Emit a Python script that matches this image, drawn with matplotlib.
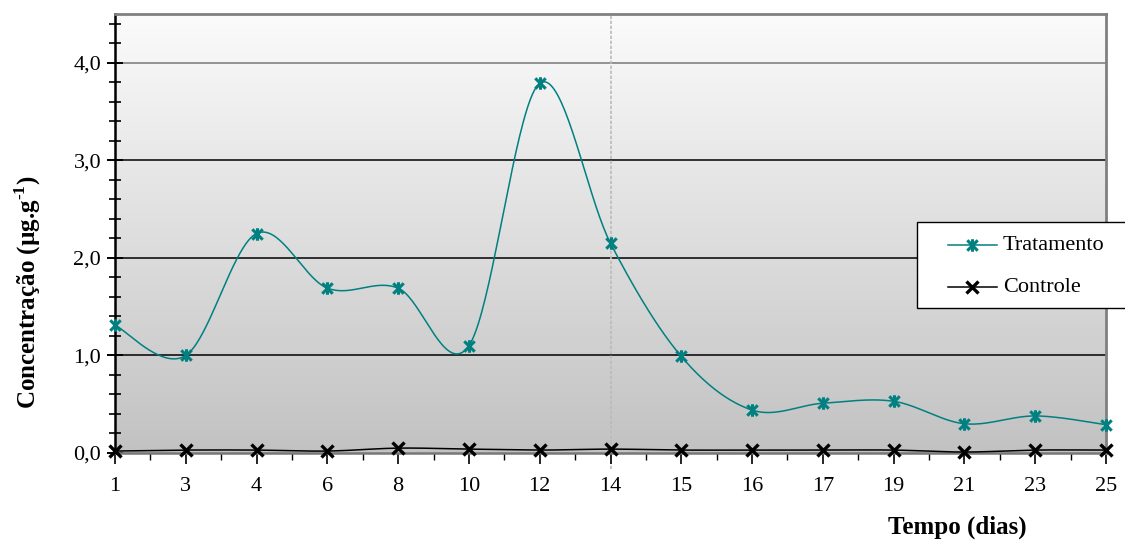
import matplotlib
matplotlib.use("Agg")
import matplotlib.pyplot as plt
import numpy as np
from matplotlib.path import Path
from matplotlib.lines import Line2D
from matplotlib.patches import Rectangle

plt.rcParams['font.family'] = ['Liberation Serif', 'DejaVu Serif']
plt.rcParams['mathtext.fontset'] = 'custom'
plt.rcParams['mathtext.rm'] = 'Liberation Serif:bold'
plt.rcParams['mathtext.bf'] = 'Liberation Serif:bold'

# dados (leitura do grafico)
dias = ['1', '3', '4', '6', '8', '10', '12', '14', '15', '16', '17', '19', '21', '23', '25']
tratamento = [1.31, 1.00, 2.25, 1.69, 1.69, 1.10, 3.79, 2.15, 0.99, 0.44, 0.51, 0.53, 0.30, 0.38, 0.29]
controle = [0.02, 0.03, 0.03, 0.02, 0.05, 0.04, 0.03, 0.04, 0.03, 0.03, 0.03, 0.03, 0.01, 0.03, 0.03]
series = ['Tratamento', 'Controle']

teal = '#008080'


def suavizar(x, y, n=40):
    # curva suavizada tipo Excel (Bezier com pontos de controle Catmull-Rom)
    x = np.asarray(x, float)
    y = np.asarray(y, float)
    px = np.concatenate([[x[0]], x, [x[-1]]])
    py = np.concatenate([[y[0]], y, [y[-1]]])
    xs, ys = [], []
    t = np.linspace(0, 1, n)
    for i in range(len(x) - 1):
        p0 = np.array([px[i + 1], py[i + 1]])
        p3 = np.array([px[i + 2], py[i + 2]])
        c1 = p0 + (p3 - np.array([px[i], py[i]])) / 6
        c2 = p3 - (np.array([px[i + 3], py[i + 3]]) - p0) / 6
        b = ((1 - t) ** 3)[:, None] * p0 + (3 * (1 - t) ** 2 * t)[:, None] * c1 \
            + (3 * (1 - t) * t ** 2)[:, None] * c2 + (t ** 3)[:, None] * p3
        xs.extend(b[:, 0])
        ys.extend(b[:, 1])
    return np.array(xs), np.array(ys)


# marcador estrela do Excel (X com barra vertical)
estrela = Path([(-1, -1), (1, 1), (-1, 1), (1, -1), (0, -1.2), (0, 1.2)],
               [Path.MOVETO, Path.LINETO, Path.MOVETO, Path.LINETO, Path.MOVETO, Path.LINETO])

fig = plt.figure(figsize=(11.25, 5.42), dpi=100)
ax = fig.add_axes([115 / 1125, 1 - 453 / 542, (1106 - 115) / 1125, (453 - 14) / 542])

x = np.arange(len(dias))

# fundo em degrade
grad = np.linspace(0, 1, 256)[:, None]
ax.imshow(grad, cmap=matplotlib.colors.LinearSegmentedColormap.from_list('g', ['#fbfbfb', '#c2c2c2']),
          extent=[0, len(dias) - 1, 0, 4.5], origin='upper', aspect='auto', zorder=0)
ax.set_xlim(0, len(dias) - 1)
ax.set_ylim(0, 4.5)

for g in [1, 2, 3]:
    ax.axhline(g, color='black', lw=1.1, zorder=1)
ax.axhline(4, color='#777777', lw=1.1, zorder=1)
ax.plot([7, 7], [-0.16, 4.5], color='#bbbbbb', lw=1.2, ls=(0, (2, 1)), clip_on=False, zorder=1)

sx, sy = suavizar(x, tratamento)
ax.plot(sx, sy, color=teal, lw=1.1, zorder=3, clip_on=False)
ax.plot(x, tratamento, ls='none', marker=estrela, ms=9, mew=2.2, mec=teal, mfc='none',
        zorder=4, clip_on=False)
cx, cy = suavizar(x, controle)
ax.plot(cx, cy, color='black', lw=1.1, zorder=3, clip_on=False)
ax.plot(x, controle, ls='none', marker='x', ms=9, mew=2.4, color='black', zorder=4, clip_on=False)

# legenda desenhada a mao em coordenadas de pixel da figura
W, H = 1125, 542
fig.patches.append(Rectangle((917 / W, 1 - 308 / H), (1130 - 917) / W, 86 / H,
                             transform=fig.transFigure, facecolor='white', edgecolor='black',
                             lw=1.0, zorder=5))
estilos = [dict(color=teal, marker=estrela, mec=teal, mfc='none', mew=2.2),
           dict(color='black', marker='x', mew=2.4)]
for k, (nome, est) in enumerate(zip(series, estilos)):
    yy = 1 - (245 + 42 * k) / H
    fig.add_artist(Line2D([948 / W, 997 / W], [yy, yy], lw=1.1, transform=fig.transFigure,
                          zorder=6, **{kk: v for kk, v in est.items() if kk not in ('marker', 'mec', 'mfc', 'mew')}))
    fig.add_artist(Line2D([972 / W], [yy], ls='none', ms=9, transform=fig.transFigure,
                          zorder=7, **est))
    fig.text(1003 / W, yy, nome, ha='left', va='center', fontsize=16, zorder=7)

# eixos
ax.set_xticks(x)
ax.set_xticklabels(dias)
ax.set_xticks(x[:-1] + 0.5, minor=True)
ax.set_yticks([0, 1, 2, 3, 4])
ax.set_yticklabels(['0,0', '1,0', '2,0', '3,0', '4,0'])
ax.set_yticks(np.arange(0, 4.51, 0.2), minor=True)
ax.tick_params(axis='x', which='major', direction='out', length=8, width=1.2, labelsize=16, pad=9)
ax.tick_params(axis='x', which='minor', direction='out', length=5, width=1.0)
ax.tick_params(axis='y', which='major', direction='inout', length=12, width=1.4, labelsize=16, pad=4)
ax.tick_params(axis='y', which='minor', direction='inout', length=9, width=1.2)

ax.spines['left'].set_linewidth(1.8)
ax.spines['bottom'].set_color('#777777')
ax.spines['bottom'].set_linewidth(1.8)
ax.spines['top'].set_color('#808080')
ax.spines['top'].set_linewidth(2)
ax.spines['right'].set_color('#808080')
ax.spines['right'].set_linewidth(2)

fig.text(28 / W, 1 - 292 / H, r'Concentração (µg.g$^{\text{-1}}$)', rotation=90,
         ha='center', va='center', fontsize=18, fontweight='bold')
fig.text(957 / W, 1 - 527 / H, 'Tempo (dias)', ha='center', va='center',
         fontsize=18, fontweight='bold')

fig.savefig('out.png', dpi=100)
